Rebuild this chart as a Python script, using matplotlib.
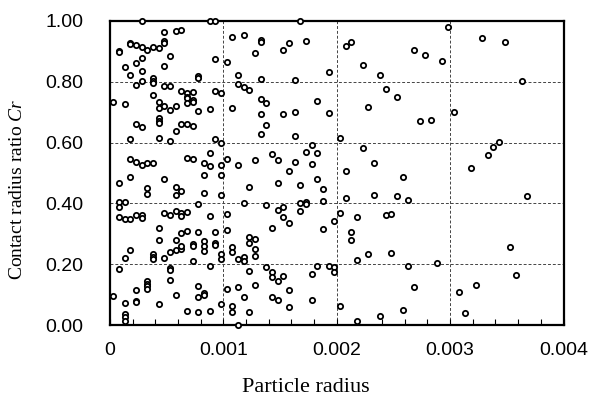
import numpy as np
import matplotlib
matplotlib.use("Agg")
import matplotlib.pyplot as plt
from matplotlib.ticker import MultipleLocator, FormatStrFormatter

plt.rcParams['font.family'] = ['Liberation Sans', 'DejaVu Sans']
plt.rcParams['mathtext.fontset'] = 'custom'
plt.rcParams['mathtext.rm'] = 'Liberation Serif'
plt.rcParams['mathtext.it'] = 'Liberation Serif:italic'

# particle radius in units of 1e-3, contact radius ratio
radius_k = [
    0.28, 0.88, 0.93, 0.48, 0.58, 0.63, 0.48, 0.48, 0.08, 0.08,
    0.18, 0.18, 0.23, 0.28, 0.33, 0.38, 0.43, 0.53, 0.48, 0.93, 1.03,
    0.13, 0.23, 0.28, 0.18, 0.28, 0.38, 0.38, 0.38,
    0.23, 0.28, 0.48, 0.53, 0.78, 0.78,
    0.38, 0.63, 0.68, 0.73, 0.68, 0.68, 0.73, 0.73, 0.93, 0.98,
    0.03, 0.13, 0.43, 0.43, 0.48, 0.53, 0.58, 0.68, 0.78, 0.88, 0.43,
    0.23, 0.28, 0.43, 0.43, 0.58, 0.63, 0.68, 0.73,
    0.18, 0.43, 0.53, 0.93, 0.98,
    0.18, 0.23, 0.28, 0.33, 0.38, 0.68, 0.73, 0.83, 0.88, 0.88, 0.98, 1.03,
    0.08, 0.18, 0.48, 0.83, 0.98,
    0.33, 0.33, 0.58, 0.63, 0.58, 0.83, 0.98,
    0.08, 0.13, 0.08, 0.78,
    0.08, 0.13, 0.18, 0.23, 0.28, 0.28,
    0.48, 0.53, 0.58, 0.63, 0.68, 0.63, 0.88, 1.03,
    0.43, 0.63, 0.68, 0.78, 0.93, 1.03, 0.43, 0.58,
    0.18, 0.13, 0.38, 0.38, 0.38, 0.48, 0.53, 0.58, 0.63, 0.63,
    0.73, 0.73, 0.83, 0.83, 0.83, 0.93, 0.93, 0.98, 0.98, 0.73,
    0.08, 0.53, 0.53, 0.88,
    0.33, 0.33, 0.33, 0.33, 0.53, 0.23, 0.78, 0.83, 0.83, 0.78, 0.58, 1.03, 0.03,
    0.13, 0.23, 0.23, 0.43, 0.98,
    0.68, 0.78, 0.88,
    0.13, 0.13, 0.13,
    1.68, 1.08, 1.18, 1.33, 1.33, 1.28, 1.53, 1.58, 1.73,
    1.13, 1.33, 1.63, 1.93, 1.13, 1.18, 1.23, 1.33, 1.38,
    1.08, 1.33, 1.53, 1.63, 1.93, 1.83, 1.38, 1.33, 1.63, 1.78,
    1.73, 1.83, 1.43, 1.48, 1.28, 1.13, 1.63, 1.78, 1.58,
    1.23, 1.48, 1.68, 1.83, 1.88, 1.18, 1.38, 1.48, 1.53, 1.53, 1.58,
    1.68, 1.73, 1.73, 1.68, 1.88, 1.98, 1.88, 1.43,
    1.23, 1.28, 1.23, 1.28, 1.28, 1.08, 1.08, 1.13, 1.18, 1.18,
    1.38, 1.43, 1.43, 1.48, 1.53, 1.23, 1.58, 1.78, 1.83, 1.93, 1.98, 1.98,
    1.13, 1.28, 1.18, 1.43, 1.48, 1.58, 1.78, 1.08, 1.08, 1.23, 1.13,
    2.08, 2.13, 2.23, 2.38, 2.43, 2.53, 2.28, 2.68, 2.78, 2.93, 2.98,
    2.73, 2.83, 3.03, 3.28, 3.48, 3.63,
    2.03, 2.23, 2.33, 2.08, 3.18, 3.33, 3.38, 3.43,
    2.58, 2.08, 2.33, 2.53, 2.63, 3.68, 2.03, 2.18, 2.43, 2.48,
    2.13, 2.13, 2.28, 2.48, 2.18, 3.53, 2.63, 2.88, 3.58,
    2.68, 3.23, 3.08, 2.03, 2.38, 2.58, 3.13, 2.18,
]
ratio = [
    1.00, 1.00, 1.00, .963, .966, .971, .935, .928, .902, .897,
    .927, .923, .921, .913, .905, .913, .911, .886, .851, .875, .864,
    .850, .861, .877, .823, .836, .812, .804, .795,
    .789, .803, .785, .785, .820, .812,
    .757, .771, .762, .766, .751, .746, .741, .733, .769, .764,
    .733, .727, .733, .713, .720, .707, .720, .729, .703, .712, .680,
    .662, .651, .671, .663, .638, .662, .660, .654,
    .611, .614, .605, .613, .598,
    .547, .537, .526, .534, .534, .548, .547, .532, .523, .567, .527, .545,
    .466, .487, .481, .492, .492,
    .450, .430, .455, .441, .427, .435, .428,
    .406, .406, .388, .399,
    .355, .350, .350, .362, .363, .352,
    .369, .361, .375, .369, .372, .359, .359, .366,
    .319, .303, .310, .306, .305, .313, .281, .281,
    .246, .220, .234, .225, .216, .220, .239, .248, .251, .261,
    .266, .261, .275, .259, .242, .270, .262, .234, .218, .212,
    .185, .188, .182, .193,
    .146, .136, .127, .118, .147, .114, .129, .106, .098, .092, .098, .120, .097,
    .072, .080, .076, .069, .069,
    .046, .044, .046,
    .036, .025, .014,
    1.00, .948, .954, .938, .930, .895, .905, .927, .935,
    .823, .808, .806, .831, .793, .782, .773, .743, .730,
    .713, .694, .694, .701, .697, .737, .658, .628, .622, .592,
    .570, .567, .562, .544, .543, .526, .537, .530, .506,
    .453, .468, .460, .479, .447, .400, .395, .378, .387, .354, .335,
    .402, .406, .398, .374, .409, .341, .315, .319,
    .290, .284, .271, .249, .227, .258, .241, .216, .225, .211,
    .192, .173, .158, .146, .161, .178, .115, .169, .193, .193, .192, .175,
    .126, .131, .091, .093, .082, .058, .082, .063, .042, .042, 0.0,
    .919, .930, .856, .823, .776, .751, .718, .906, .889, .869, .979,
    .670, .673, .700, .943, .931, .804,
    .616, .581, .534, .506, .516, .560, .586, .602,
    .486, .417, .428, .424, .411, .423, .367, .354, .363, .366,
    .306, .280, .233, .237, .213, .258, .193, .205, .164,
    .126, .130, .108, .061, .030, .048, .038, .013,
]

radius = np.array(radius_k) * 1e-3
ratio = np.array(ratio)

x_ticks = [0, 0.001, 0.002, 0.003, 0.004]
x_tick_labels = ["0", "0.001", "0.002", "0.003", "0.004"]

fig = plt.figure(figsize=(5.92, 3.98), dpi=100)
ax = fig.add_axes([110 / 592, 1 - 325 / 398, 453.5 / 592, 304 / 398])

ax.plot(radius, ratio, linestyle='none', marker='o', markersize=3.8,
        markeredgewidth=1.3, markeredgecolor='black', markerfacecolor='white',
        clip_on=False, zorder=3)

ax.set_xlim(0, 0.004)
ax.set_ylim(0, 1.0)
ax.set_xticks(x_ticks)
ax.set_xticklabels(x_tick_labels)
ax.xaxis.set_minor_locator(MultipleLocator(0.0002))
ax.yaxis.set_major_locator(MultipleLocator(0.2))
ax.yaxis.set_major_formatter(FormatStrFormatter('%.2f'))

ax.grid(True, which='major', color='#444444', linestyle=(0, (3, 2)), linewidth=0.7)
ax.set_axisbelow(True)

for s in ax.spines.values():
    s.set_linewidth(1.6)

ax.tick_params(axis='x', which='major', direction='in', length=4, width=0.8, pad=12,
               labelsize=14)
ax.tick_params(axis='x', which='minor', direction='in', length=4, width=0.8)
ax.tick_params(axis='y', which='major', direction='in', length=0, pad=19, labelsize=14)

ax.set_xlabel("Particle radius", fontfamily='Liberation Serif', fontsize=16)
ax.xaxis.label.set_va('center')
ax.xaxis.set_label_coords(0.432, -0.207)

ax.set_ylabel(r"Contact radius ratio $Cr$", fontfamily='Liberation Serif', fontsize=14)
ax.yaxis.label.set_va('center')
ax.yaxis.set_label_coords(-0.203, 0.447)

fig.savefig("out.png", dpi=100)
